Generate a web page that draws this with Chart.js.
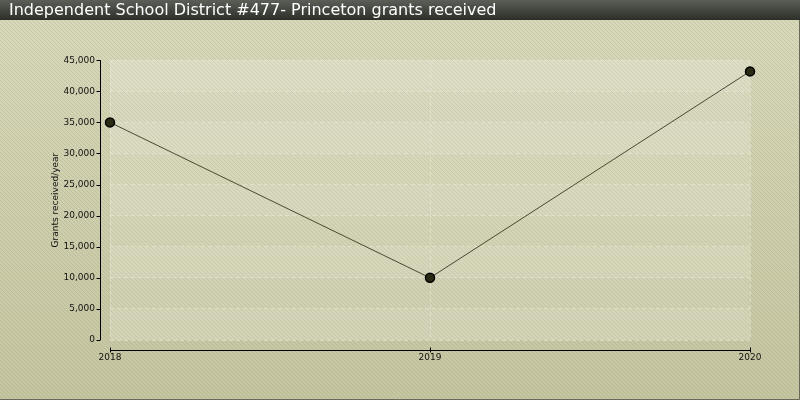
<!DOCTYPE html>
<html>
<head>
<meta charset="utf-8">
<script src="https://cdn.jsdelivr.net/npm/chart.js@4/dist/chart.umd.min.js"></script>
<style>
  html, body { margin: 0; padding: 0; background: #d0d0b0; }
  canvas { display: block; }
</style>
</head>
<body>
<canvas id="grants" width="800" height="400"></canvas>
<script>
// --- Data ---
const chartTitle = 'Independent School District #477- Princeton grants received';
const yAxisTitle = 'Grants received/year';
const years = ['2018', '2019', '2020'];
const grants = [35000, 10000, 43200];
const yMax = 45000;
const yStep = 5000;

const labelFont = { family: 'DejaVu Sans', size: 9 };
const gridColor = 'rgba(234, 234, 222, 0.6)';

// background, title bar, striped plot area and the offset axes
const backdrop = {
    id: 'backdrop',
    beforeDraw(chart) {
        const { ctx, width, height, chartArea: a } = chart;
        const y = chart.scales.y;
        ctx.save();

        let bg = ctx.createLinearGradient(0, 20, 0, height);
        bg.addColorStop(0, '#d8d8bb');
        bg.addColorStop(1, '#c5c5a2');
        ctx.fillStyle = bg;
        ctx.fillRect(0, 0, width, height);

        // diagonal hatching
        const tile = document.createElement('canvas');
        tile.width = tile.height = 4;
        const tc = tile.getContext('2d');
        tc.fillStyle = 'rgba(140, 140, 90, 0.22)';
        for (let i = 0; i < 4; i++) tc.fillRect(i, i, 1, 1);
        ctx.fillStyle = ctx.createPattern(tile, 'repeat');
        ctx.fillRect(0, 20, width, height - 20);

        // title bar
        let bar = ctx.createLinearGradient(0, 0, 0, 20);
        bar.addColorStop(0, '#5c5e58');
        bar.addColorStop(1, '#2c2e28');
        ctx.fillStyle = bar;
        ctx.fillRect(0, 0, width, 20);

        // plot bands
        for (let v = 0; v < yMax; v += yStep) {
            const top = y.getPixelForValue(v + yStep);
            const bot = y.getPixelForValue(v);
            ctx.fillStyle = (v / yStep) % 2 === 0 ? 'rgba(255,255,255,0.2)' : 'rgba(255,255,255,0.13)';
            ctx.fillRect(a.left, top, a.right - a.left, bot - top);
        }
        ctx.restore();
    },
    afterDraw(chart) {
        const { ctx, width, height, chartArea: a } = chart;
        const { x, y } = chart.scales;
        ctx.save();
        ctx.strokeStyle = '#000';
        ctx.lineWidth = 1;
        ctx.beginPath();

        // y axis, 10px left of the plot
        const ax = Math.round(a.left) - 9.5;
        ctx.moveTo(ax, y.getPixelForValue(yMax));
        ctx.lineTo(ax, y.getPixelForValue(0));
        y.ticks.forEach(t => {
            const py = Math.round(y.getPixelForValue(t.value)) + 0.5;
            ctx.moveTo(ax - 4, py);
            ctx.lineTo(ax, py);
        });

        // x axis, 10px below the plot
        const by = Math.round(a.bottom) + 10.5;
        ctx.moveTo(x.getPixelForValue(0), by);
        ctx.lineTo(x.getPixelForValue(years.length - 1), by);
        years.forEach((_, i) => {
            const px = Math.round(x.getPixelForValue(i)) + 0.5;
            ctx.moveTo(px, by - 3);
            ctx.lineTo(px, by + 2);
        });
        ctx.stroke();

        // frame on right and bottom
        ctx.strokeStyle = '#6a6a5a';
        ctx.beginPath();
        ctx.moveTo(width - 0.5, 20);
        ctx.lineTo(width - 0.5, height - 0.5);
        ctx.lineTo(0, height - 0.5);
        ctx.stroke();
        ctx.restore();
    }
};

const ctx = document.getElementById('grants').getContext('2d');

new Chart(ctx, {
    type: 'line',
    data: {
        labels: years,
        datasets: [{
            data: grants,
            borderColor: '#4a4a32',
            borderWidth: 1,
            pointRadius: 4.5,
            pointBackgroundColor: '#2b2b14',
            pointBorderColor: '#000',
            pointBorderWidth: 1.5,
            tension: 0
        }]
    },
    options: {
        responsive: false,
        animation: false,
        layout: {
            padding: { left: 9, right: 50, top: 0, bottom: 0 }
        },
        plugins: {
            legend: { display: false },
            tooltip: { enabled: false },
            title: {
                display: true,
                text: chartTitle,
                align: 'start',
                color: '#ffffff',
                font: { family: 'DejaVu Sans', size: 16, weight: 'normal' },
                padding: { top: 1, bottom: 40 }
            }
        },
        scales: {
            x: {
                grid: { color: gridColor, drawTicks: false },
                border: { display: false, dash: [4, 3] },
                ticks: { color: '#111', font: labelFont, padding: 12, maxRotation: 0 },
                afterFit(scale) { scale.height = 60; }
            },
            y: {
                min: 0,
                max: yMax,
                grid: { color: gridColor, drawTicks: false },
                border: { display: false, dash: [4, 3] },
                ticks: { stepSize: yStep, color: '#111', font: labelFont, padding: 15 },
                title: {
                    display: true,
                    text: yAxisTitle,
                    color: '#111',
                    font: labelFont,
                    padding: { top: 41, bottom: 0 }
                },
                afterFit(scale) { scale.width = 101; }
            }
        }
    },
    plugins: [backdrop]
});
</script>
</body>
</html>
